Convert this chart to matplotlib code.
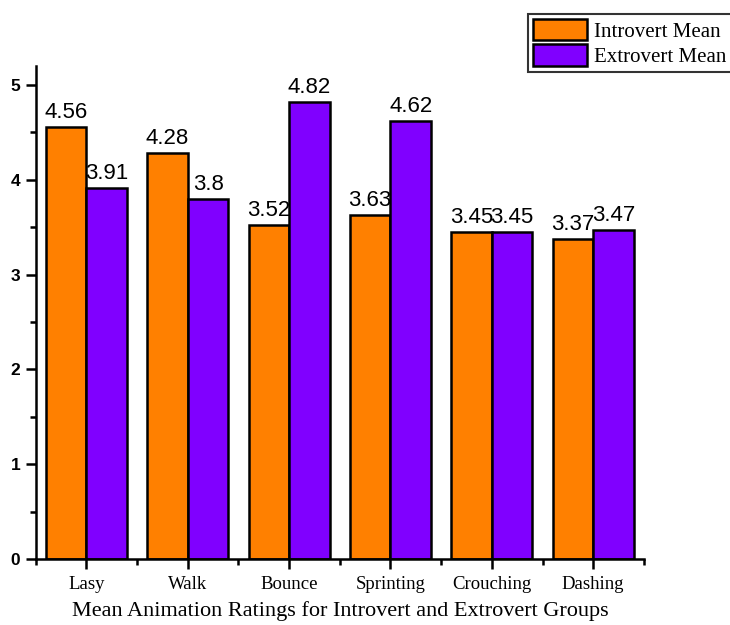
import numpy as np
import matplotlib
matplotlib.use("Agg")
import matplotlib.pyplot as plt
from matplotlib.ticker import MultipleLocator

categories = ["Lasy", "Walk", "Bounce", "Sprinting", "Crouching", "Dashing"]
introvert_mean = [4.56, 4.28, 3.52, 3.63, 3.45, 3.37]
extrovert_mean = [3.91, 3.8, 4.82, 4.62, 3.45, 3.47]

fig = plt.figure(figsize=(7.30, 6.25), dpi=100)
ax = fig.add_axes([0.049, 0.1056, 0.833, 0.7888])

x = np.arange(len(categories))
w = 0.4
b1 = ax.bar(x - w / 2, introvert_mean, w, color="#FF8000", edgecolor="black",
            linewidth=1.8, label="Introvert Mean")
b2 = ax.bar(x + w / 2, extrovert_mean, w, color="#8000FF", edgecolor="black",
            linewidth=1.8, label="Extrovert Mean")

# value labels above each bar
for bars in (b1, b2):
    for r in bars:
        ax.annotate(f"{r.get_height():g}", (r.get_x() + r.get_width() / 2, r.get_height()),
                    xytext=(0, 3), textcoords="offset points", ha="center", va="bottom",
                    fontsize=16, family="Liberation Sans")

ax.set_xlim(-0.5, 5.5)
ax.set_ylim(0, 5.2)
ax.set_xticks(x)
ax.set_xticklabels(categories, family="Liberation Serif", fontsize=13.5)
ax.xaxis.set_minor_locator(MultipleLocator(1, offset=0.5))
ax.yaxis.set_major_locator(MultipleLocator(1))
ax.yaxis.set_minor_locator(MultipleLocator(0.5))
for lab in ax.get_yticklabels():
    lab.set_family("Liberation Sans")
    lab.set_fontsize(12.5)
    lab.set_fontweight("bold")

for s in ("top", "right"):
    ax.spines[s].set_visible(False)
for s in ("left", "bottom"):
    ax.spines[s].set_linewidth(1.8)
ax.tick_params(which="major", direction="out", length=7, width=1.8)
ax.tick_params(which="minor", direction="out", length=4, width=1.8)
ax.tick_params(axis="x", which="major", pad=5)
ax.tick_params(axis="y", which="major", pad=4)

ax.set_xlabel("Mean Animation Ratings for Introvert and Extrovert Groups",
              family="Liberation Serif", fontsize=16, labelpad=6)

leg = fig.legend(loc="upper left", bbox_to_anchor=(0.723, 0.978),
                 prop={"family": "Liberation Serif", "size": 15},
                 frameon=True, fancybox=False, edgecolor="black",
                 handlelength=2.6, handleheight=1.2, handletextpad=0.35,
                 borderpad=0.25, labelspacing=0.12, borderaxespad=0)
leg.get_frame().set_linewidth(1.5)

plt.savefig("out.png", dpi=100)
